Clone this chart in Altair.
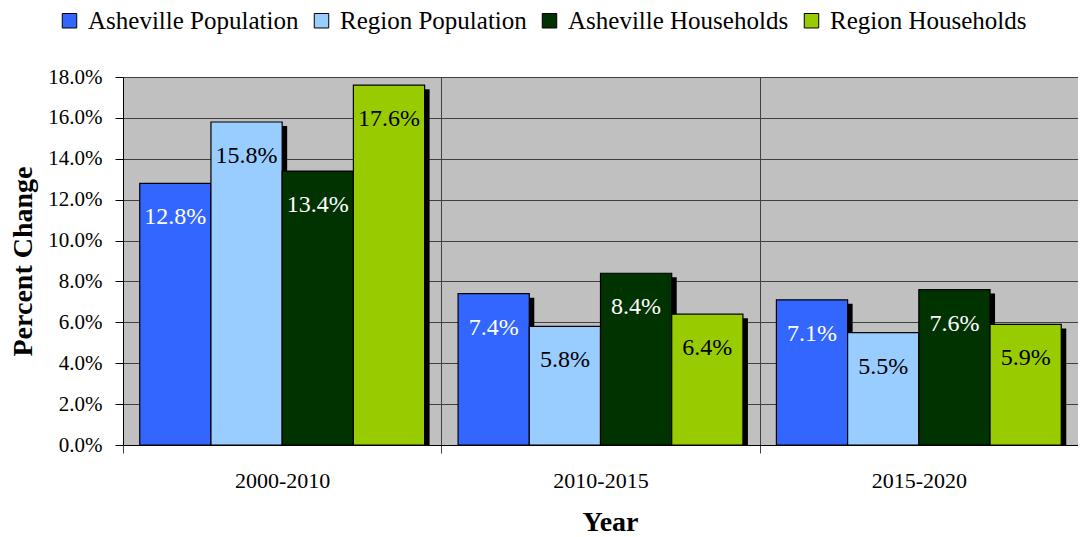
import altair as alt
import pandas as pd

periods = ["2000-2010", "2010-2015", "2015-2020"]
series = ["Asheville Population", "Region Population", "Asheville Households", "Region Households"]
asheville_pop = [12.8, 7.4, 7.1]
region_pop = [15.8, 5.8, 5.5]
asheville_hh = [13.4, 8.4, 7.6]
region_hh = [17.6, 6.4, 5.9]
colors = ["#3366FF", "#99CCFF", "#003300", "#99CC00"]
y_ticks = [0.0, 0.02, 0.04, 0.06, 0.08, 0.10, 0.12, 0.14, 0.16, 0.18]

rows = []
for name, vals in zip(series, [asheville_pop, region_pop, asheville_hh, region_hh]):
    for p, v in zip(periods, vals):
        rows.append({"period": p, "series": name, "value": v / 100.0})
df = pd.DataFrame(rows)

FONT = "Liberation Serif"
LEFT = 115
W, H = 1070 - LEFT, 368
BAND = W / 3

x = alt.X("period:N", sort=periods,
          scale=alt.Scale(paddingInner=0, paddingOuter=0),
          axis=alt.Axis(title="Year", labelAngle=0, tickBand="extent", grid=True,
                        gridColor="#404040", gridWidth=1, domainColor="black",
                        tickColor="#404040", tickSize=8, labelPadding=17,
                        labelFont=FONT, labelFontSize=22, labelColor="black",
                        titleFont=FONT, titleFontSize=28, titleFontWeight="bold",
                        titleColor="black", titlePadding=17, titleX=487))
xo = alt.XOffset("series:N", sort=series,
                 scale=alt.Scale(paddingOuter=0.235, paddingInner=0))
xo_shadow = alt.XOffset("series:N", sort=series,
                        scale=alt.Scale(paddingOuter=0.235, paddingInner=0,
                                        range=[5, BAND + 5]))
y = alt.Y("value:Q",
          scale=alt.Scale(domain=[0, 0.18], nice=False),
          axis=alt.Axis(title="Percent Change", format=".1%", values=y_ticks,
                        grid=True, gridColor="#404040", gridWidth=1,
                        domainColor="black", tickColor="black", tickSize=8,
                        labelPadding=13, labelFont=FONT, labelFontSize=21,
                        labelColor="black", titleFont=FONT, titleFontSize=28,
                        titleFontWeight="bold", titleColor="black", titlePadding=10))

base = alt.Chart(df)

shadow = base.mark_bar(color="black", yOffset=4, clip=True).encode(
    x=x, xOffset=xo_shadow, y=y)

bars = base.mark_bar(stroke="black", strokeWidth=1.2).encode(
    x=x, xOffset=xo, y=y,
    color=alt.Color("series:N", sort=series,
                    scale=alt.Scale(domain=series, range=colors),
                    legend=alt.Legend(title=None, orient="none", direction="horizontal",
                                      columns=4, legendX=-66, legendY=-69,
                                      symbolType="square", symbolSize=210,
                                      symbolStrokeColor="black", symbolStrokeWidth=1,
                                      symbolOpacity=1,
                                      labelFont=FONT, labelFontSize=25, labelColor="black",
                                      labelOffset=6, columnPadding=10, labelLimit=400)))

labels = base.mark_text(font=FONT, fontSize=24, baseline="middle", dy=34).encode(
    x=x, xOffset=xo, y=y,
    text=alt.Text("value:Q", format=".1%"),
    color=alt.condition(
        alt.FieldOneOfPredicate(field="series", oneOf=["Asheville Population", "Asheville Households"]),
        alt.value("white"), alt.value("black")))

front = alt.layer(bars, labels)

chart = alt.layer(shadow, front).resolve_scale(xOffset="independent").properties(
    width=W, height=H,
    autosize=alt.AutoSizeParams(type="none"),
    padding={"left": LEFT, "top": 69, "right": 0, "bottom": 92},
    background="white",
).configure(font=FONT).configure_view(fill="#C0C0C0", stroke=None)

chart.save("out.html", embed_options={"renderer": "svg", "actions": False})
